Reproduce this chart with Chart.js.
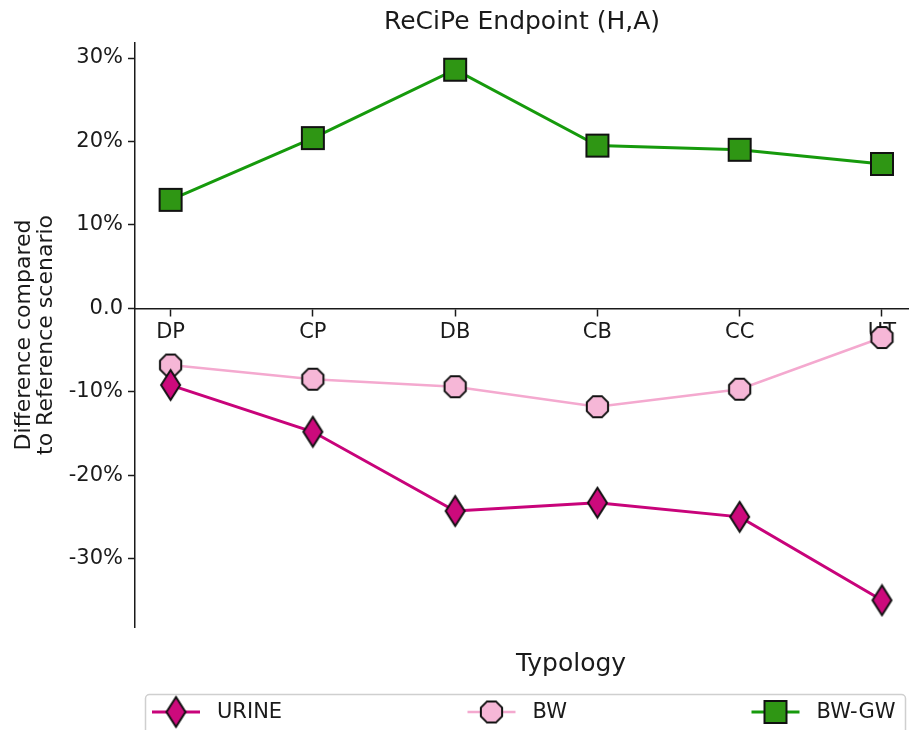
<!DOCTYPE html>
<html>
<head>
<meta charset="utf-8">
<script src="https://cdn.jsdelivr.net/npm/chart.js@4.4.1/dist/chart.umd.min.js"></script>
<style>
  html, body { margin: 0; padding: 0; background: #fff; }
  #wrap { width: 909px; height: 730px; }
</style>
</head>
<body>
<div id="wrap"><canvas id="chart" width="909" height="730"></canvas></div>
<script>
// Data (percent difference vs reference scenario)
const categories = ["DP", "CP", "DB", "CB", "CC", "UT"];
const urine = [-9.2, -14.8, -24.3, -23.3, -25.0, -35.0];
const bw = [-6.8, -8.5, -9.4, -11.8, -9.7, -3.5];
const bwgw = [13.0, 20.4, 28.6, 19.5, 19.0, 17.3];
const yTicks = [-30, -20, -10, 0, 10, 20, 30];
const seriesNames = ["URINE", "BW", "BW-GW"];

const FONT = "'DejaVu Sans', sans-serif";
const INK = "#1a1a1a";

// Marker images (matplotlib-like thin diamond, octagon, square)
function makeDiamond(fill, w, h) {
  const c = document.createElement("canvas");
  c.width = w + 4; c.height = h + 4;
  const ctx = c.getContext("2d");
  const cx = c.width / 2, cy = c.height / 2;
  ctx.beginPath();
  ctx.moveTo(cx, 2); ctx.lineTo(w + 2, cy); ctx.lineTo(cx, h + 2); ctx.lineTo(2, cy);
  ctx.closePath();
  ctx.fillStyle = fill; ctx.fill();
  ctx.lineWidth = 2; ctx.strokeStyle = "#111"; ctx.stroke();
  return c;
}

function makeOctagon(fill, r) {
  const c = document.createElement("canvas");
  c.width = c.height = Math.ceil(2 * r + 4);
  const ctx = c.getContext("2d");
  const cx = c.width / 2, cy = c.height / 2;
  ctx.beginPath();
  for (let k = 0; k < 8; k++) {
    const a = (22.5 + k * 45) * Math.PI / 180;
    const px = cx + r * Math.cos(a), py = cy + r * Math.sin(a);
    if (k === 0) ctx.moveTo(px, py); else ctx.lineTo(px, py);
  }
  ctx.closePath();
  ctx.fillStyle = fill; ctx.fill();
  ctx.lineWidth = 2; ctx.strokeStyle = "#111"; ctx.stroke();
  return c;
}

function makeSquare(fill, s) {
  const c = document.createElement("canvas");
  c.width = c.height = s + 4;
  const ctx = c.getContext("2d");
  ctx.fillStyle = fill; ctx.fillRect(2, 2, s, s);
  ctx.lineWidth = 2; ctx.strokeStyle = "#111"; ctx.strokeRect(2, 2, s, s);
  return c;
}

const colors = {
  urineLine: "#c8037a", urineFill: "#cc0a7c",
  bwLine: "#f4a9cf", bwFill: "#f6b7d7",
  gwLine: "#169a0c", gwFill: "#2f9614"
};

const diamondImg = makeDiamond(colors.urineFill, 19, 30);
const octagonImg = makeOctagon(colors.bwFill, 11.5);
const squareImg = makeSquare(colors.gwFill, 22);

const markers = [diamondImg, octagonImg, squareImg];
const lineColors = [colors.urineLine, colors.bwLine, colors.gwLine];
const lineWidths = [3, 2.5, 3];

function toPoints(values) {
  return values.map((v, i) => ({ x: i, y: v }));
}

// Axis title under the chart and the framed legend, like matplotlib
const extrasPlugin = {
  id: "extras",
  afterDraw(chart) {
    const ctx = chart.ctx;
    ctx.save();
    ctx.fillStyle = INK;
    ctx.font = "25px " + FONT;
    ctx.textAlign = "center";
    ctx.textBaseline = "middle";
    ctx.fillText("Typology", 571, 664);

    // legend frame
    ctx.beginPath();
    ctx.roundRect(145.5, 694.5, 760, 50, 4);
    ctx.fillStyle = "#ffffff";
    ctx.fill();
    ctx.lineWidth = 1.5;
    ctx.strokeStyle = "#cfcfcf";
    ctx.stroke();

    const entryX = [176, 491.5, 775.5];
    const y = 712;
    ctx.font = "21px " + FONT;
    ctx.textAlign = "left";
    for (let i = 0; i < 3; i++) {
      ctx.beginPath();
      ctx.moveTo(entryX[i] - 24, y);
      ctx.lineTo(entryX[i] + 24, y);
      ctx.strokeStyle = lineColors[i];
      ctx.lineWidth = lineWidths[i];
      ctx.stroke();
      const m = markers[i];
      ctx.drawImage(m, entryX[i] - m.width / 2, y - m.height / 2);
      ctx.fillStyle = INK;
      ctx.fillText(seriesNames[i], entryX[i] + 41, y + 1);
    }
    ctx.restore();
  }
};

const datasets = [
  { label: seriesNames[0], data: toPoints(urine), borderColor: lineColors[0], borderWidth: lineWidths[0], pointStyle: diamondImg },
  { label: seriesNames[1], data: toPoints(bw), borderColor: lineColors[1], borderWidth: lineWidths[1], pointStyle: octagonImg },
  { label: seriesNames[2], data: toPoints(bwgw), borderColor: lineColors[2], borderWidth: lineWidths[2], pointStyle: squareImg }
];

new Chart(document.getElementById("chart"), {
  type: "line",
  data: { datasets: datasets },
  options: {
    responsive: false,
    animation: false,
    events: [],
    layout: { autoPadding: false, padding: { left: 0, right: 0, top: 0, bottom: 103 } },
    elements: { line: { tension: 0, fill: false }, point: { radius: 12 } },
    plugins: {
      legend: { display: false },
      tooltip: { enabled: false },
      title: {
        display: true,
        fullSize: false,
        text: "ReCiPe Endpoint (H,A)",
        color: INK,
        font: { family: FONT, size: 25, weight: "normal" },
        padding: { top: 7, bottom: 6 }
      }
    },
    scales: {
      x: {
        type: "linear",
        position: { y: 0 },
        min: -0.25,
        max: 5.19,
        afterBuildTicks(scale) {
          scale.ticks = categories.map((c, i) => ({ value: i }));
        },
        grid: { drawOnChartArea: false, drawTicks: true, tickLength: 7, tickColor: INK, tickWidth: 1.5 },
        border: { display: true, color: INK, width: 1.5 },
        ticks: {
          color: INK,
          font: { family: FONT, size: 21 },
          padding: 5,
          maxRotation: 0,
          callback: (v) => categories[v]
        }
      },
      y: {
        min: -38.2,
        max: 31.8,
        afterBuildTicks(scale) {
          scale.ticks = yTicks.map((v) => ({ value: v }));
        },
        afterFit(scale) {
          scale.width = 135;
        },
        grid: { drawOnChartArea: false, drawTicks: true, tickLength: 7, tickColor: INK, tickWidth: 1.5 },
        border: { display: true, color: INK, width: 1.5 },
        ticks: {
          color: INK,
          font: { family: FONT, size: 21 },
          padding: 5,
          callback: (v) => (v === 0 ? "0.0" : v + "%")
        },
        title: {
          display: true,
          text: ["Difference compared", "to Reference scenario"],
          color: INK,
          font: { family: FONT, size: 22, lineHeight: 1.0 },
          padding: { top: 13, bottom: 0 }
        }
      }
    }
  },
  plugins: [extrasPlugin]
});
</script>
</body>
</html>
